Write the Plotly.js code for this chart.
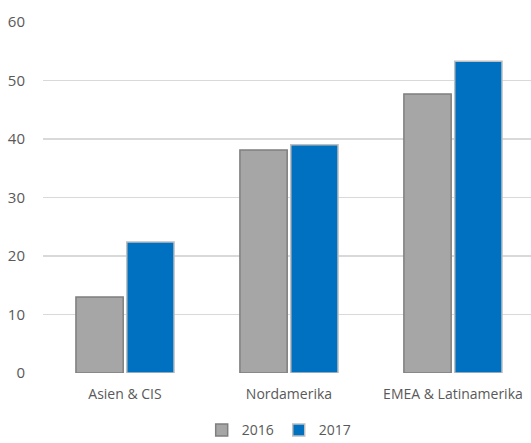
<!DOCTYPE html>
<html><head><meta charset="utf-8">
<script src="https://cdn.plot.ly/plotly-3.0.1.min.js"></script>
<style>html,body{margin:0;padding:0;background:#fff}#c{width:531px;height:443px}</style>
</head><body><div id="c"></div>
<script>
const categories = ["Asien & CIS", "Nordamerika", "EMEA & Latinamerika"];
const values2016 = [13.0, 38.1, 47.7];
const values2017 = [22.4, 39.0, 53.3];
const yTicks = [0, 10, 20, 30, 40, 50, 60];

const fam = "Open Sans, sans-serif";
const traces = [
  {type: "bar", name: "2016", x: categories, y: values2016,
   marker: {color: "#a6a6a6", line: {color: "#7f7f7f", width: 1.5}}},
  {type: "bar", name: "2017", x: categories, y: values2017,
   marker: {color: "#0070c0", line: {color: "#bfbfbf", width: 1.5}}}
];
const layout = {
  width: 531, height: 443,
  margin: {l: 43, r: 0, t: 22, b: 70, autoexpand: false},
  paper_bgcolor: "#fff", plot_bgcolor: "#fff",
  font: {family: fam, size: 14, color: "#595959"},
  barmode: "group", bargap: 0.38, bargroupgap: 0.07,
  xaxis: {range: [-0.5, 2.476], showgrid: false, zeroline: false, showline: false,
          ticks: "", tickfont: {family: fam, size: 14, color: "#595959"},
          ticklabelstandoff: 11, automargin: false},
  yaxis: {range: [0, 60], tickvals: yTicks, showgrid: true, gridcolor: "#d9d9d9",
          gridwidth: 1.5, zeroline: false, showline: false, ticks: "",
          tickfont: {family: fam, size: 15, color: "#595959"},
          ticklabelstandoff: 17, automargin: false},
  showlegend: true,
  legend: {orientation: "h", x: 0.484, xanchor: "center", y: -0.118, yanchor: "top",
           font: {family: fam, size: 14, color: "#595959"}, itemwidth: 30, traceorder: "normal"}
};
Plotly.newPlot("c", traces, layout, {displayModeBar: false, staticPlot: true});
</script></body></html>
